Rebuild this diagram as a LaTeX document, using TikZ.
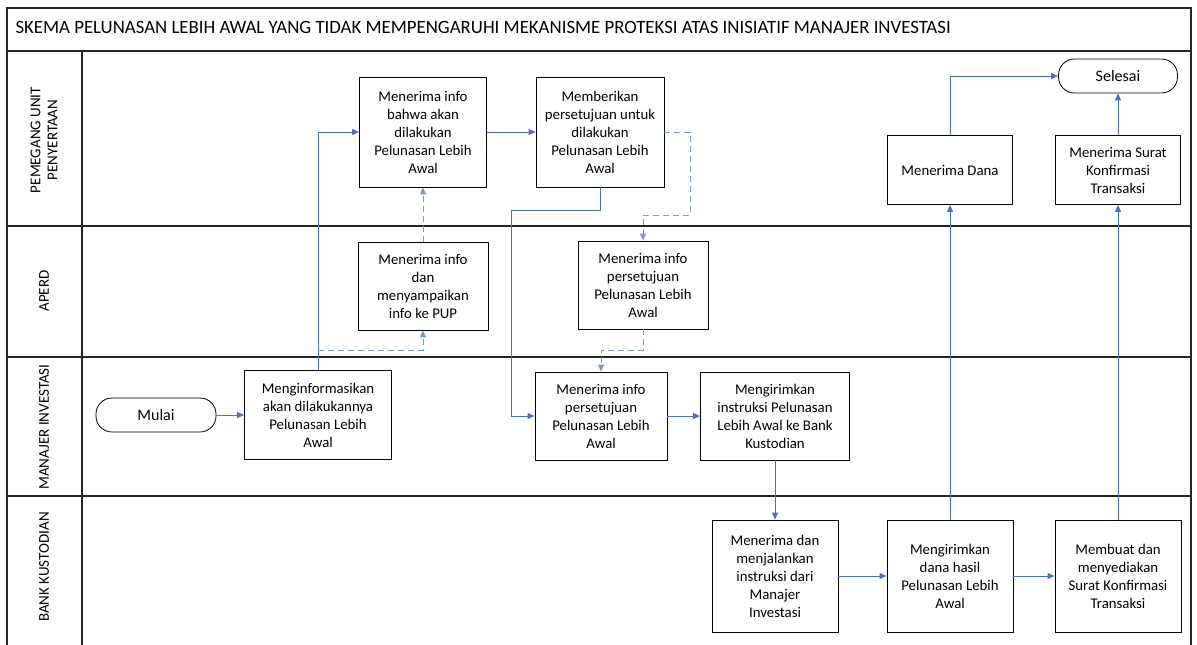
\documentclass[tikz,border=0pt]{standalone}
\usepackage{fontspec}
\setmainfont{Carlito}
\usepackage{tikz}
\usetikzlibrary{positioning}
\usetikzlibrary{arrows.meta}
\definecolor{arblue}{HTML}{4472C4}
\definecolor{dashblue}{HTML}{7399DA}

\begin{document}
\begin{tikzpicture}[x=1pt, y=-1pt, font=\fontsize{14.8}{18}\selectfont,
  proc/.style={draw, line width=0.8pt, align=center, inner sep=0pt},
  term/.style={proc, rounded corners=16pt, minimum width=120pt, minimum height=34pt, font=\fontsize{16}{18}\selectfont},
  lbl/.style={rotate=90, align=center, font=\fontsize{15}{17}\selectfont},
  lane/.style={line width=1.4pt, black!85},
  ar/.style={draw=arblue, line width=0.9pt, -{Triangle[length=7pt,width=6pt]}},
  dar/.style={ar, draw=dashblue, dash pattern=on 6pt off 4pt}]
          \useasboundingbox (0,0) rectangle (1197,645);
          % frame and swimlanes
          \draw[lane] (7,645) -- (7,8) -- (1191,8) -- (1191,645);
          \draw[lane] (7,51) -- (1191,51);
          \draw[lane] (7,226) -- (1191,226);
          \draw[lane] (7,357) -- (1191,357);
          \draw[lane] (7,496) -- (1191,496);
          \draw[lane] (82,51) -- (82,645);
          \node[anchor=west, font=\fontsize{18.8}{21}\selectfont] (ttl) at (12,27) {SKEMA PELUNASAN LEBIH AWAL YANG TIDAK MEMPENGARUHI MEKANISME PROTEKSI ATAS INISIATIF MANAJER INVESTASI};
          \node[lbl] (l1) at (44,140) {PEMEGANG UNIT\\PENYERTAAN};
          \node[lbl] (l2) at (44,291) {APERD};
          \node[lbl] (l3) at (44,427) {MANAJER INVESTASI};
          \node[lbl] (l4) at (44,567) {BANK KUSTODIAN};

          % pemegang unit penyertaan
          \node[proc, minimum width=127pt, minimum height=110pt] (a1) at (423,132) {Menerima info\\bahwa akan\\dilakukan\\Pelunasan Lebih\\Awal};
          \node[proc, minimum width=128pt, minimum height=110pt] (a2) at (600,132) {Memberikan\\persetujuan untuk\\dilakukan\\Pelunasan Lebih\\Awal};
          \node[term, minimum width=119pt] (sel) at (1118,76) {Selesai};
          \node[proc, minimum width=125pt, minimum height=69pt] (md) at (950,170) {Menerima Dana};
          \node[proc, minimum width=125pt, minimum height=69pt] (ms) at (1118,170) {Menerima Surat\\Konfirmasi\\Transaksi};
          % aperd
          \node[proc, minimum width=130pt, minimum height=88pt] (b1) at (423,286) {Menerima info\\dan\\menyampaikan\\info ke PUP};
          \node[proc, minimum width=130pt, minimum height=88pt] (b2) at (643,285) {Menerima info\\persetujuan\\Pelunasan Lebih\\Awal};
          % manajer investasi
          \node[term] (mul) at (156,415) {Mulai};
          \node[proc, minimum width=147pt, minimum height=89pt] (c1) at (318,415) {Menginformasikan\\akan dilakukannya\\Pelunasan Lebih\\Awal};
          \node[proc, minimum width=132pt, minimum height=88pt] (c2) at (601,416) {Menerima info\\persetujuan\\Pelunasan Lebih\\Awal};
          \node[proc, minimum width=149pt, minimum height=88pt] (c3) at (775,416) {Mengirimkan\\instruksi Pelunasan\\Lebih Awal ke Bank\\Kustodian};
          % bank kustodian
          \node[proc, minimum width=126pt, minimum height=112pt] (d1) at (775,576) {Menerima dan\\menjalankan\\instruksi dari\\Manajer\\Investasi};
          \node[proc, minimum width=126pt, minimum height=112pt] (d2) at (950,576) {Mengirimkan\\dana hasil\\Pelunasan Lebih\\Awal};
          \node[proc, minimum width=126pt, minimum height=112pt] (d3) at (1118,576) {Membuat dan\\menyediakan\\Surat Konfirmasi\\Transaksi};

          \coordinate (j1) at (318,350);
          \coordinate (k1) at (511,210);
          \coordinate (k2) at (690,215);
          \coordinate (k3) at (601,350);

          \draw[ar] (mul) -- (c1);
          \draw[ar] (c1) |- (a1);
          \draw[dar] (j1) -| (b1);
          \draw[dar] (b1) -- (a1);
          \draw[ar] (a1) -- (a2);
          \draw[ar] (a2.south) |- (k1) |- (c2.west);
          \draw[dar] (a2.east) -| (k2) -| (b2.north);
          \draw[dar] (b2.south) |- (k3) -- (c2.north);
          \draw[ar] (c2) -- (c3);
          \draw[ar] (c3) -- (d1);
          \draw[ar] (d1) -- (d2);
          \draw[ar] (d2) -- (d3);
          \draw[ar] (d2) -- (md);
          \draw[ar] (md) |- (sel);
          \draw[ar] (d3) -- (ms);
          \draw[ar] (ms) -- (sel);
        \end{tikzpicture}
\end{document}
